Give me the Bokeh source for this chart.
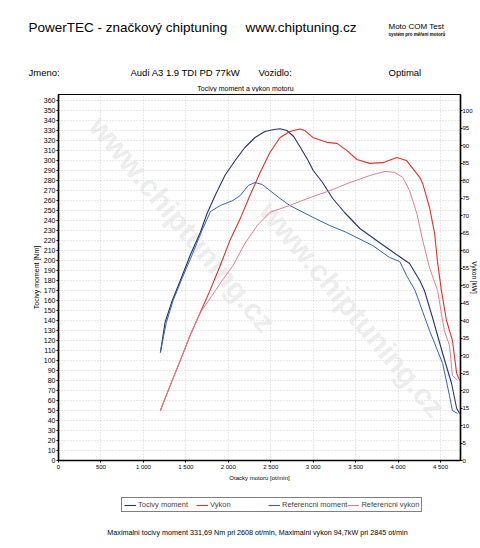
from bokeh.plotting import figure
from bokeh.models import (Range1d, LinearAxis, FixedTicker, Label, Legend, LegendItem)
from bokeh.layouts import column
from bokeh.embed import file_html
from bokeh.resources import INLINE
import math

# ---- data ----
rpm_moment = [1200, 1255, 1340, 1435, 1550, 1670, 1750, 1845, 1960, 2080, 2195, 2315, 2430, 2540,
              2608, 2690, 2770, 2850, 2940, 3000, 3110, 3230, 3370, 3550, 3780, 3980, 4135, 4255,
              4310, 4405, 4525, 4630, 4690, 4725]
nm_moment = [108, 138, 160, 180, 205, 228, 247, 265, 285, 300, 313, 323, 329, 331,
             331.7, 330, 324, 313, 300, 290, 278, 262, 248, 232, 218, 206, 197, 180,
             170, 143, 107, 77, 52, 47]

rpm_power = [1200, 1315, 1435, 1550, 1670, 1785, 1905, 2020, 2140, 2255, 2375, 2490, 2610, 2725,
             2845, 2900, 2995, 3160, 3280, 3395, 3515, 3665, 3820, 3985, 4100, 4255, 4290, 4370,
             4430, 4465, 4510, 4570, 4640, 4690, 4725]
kw_power = [14.3, 21.4, 28.6, 35.7, 42.3, 48.6, 55.7, 62.9, 69.1, 75.7, 82.3, 88.0, 92.3, 94.0,
            94.7, 94.3, 92.3, 90.9, 90.6, 88.6, 86.0, 84.9, 85.1, 86.6, 85.7, 80.9, 79.1, 72.3,
            64.9, 56.6, 48.6, 40.0, 34.3, 24.9, 22.9]

rpm_ref_moment = [1200, 1270, 1350, 1455, 1575, 1690, 1790, 1905, 2055, 2140, 2235, 2315, 2400,
                  2490, 2610, 2725, 3000, 3195, 3395, 3700, 3900, 4020, 4100, 4200, 4370, 4525,
                  4605, 4640, 4700]
nm_ref_moment = [108, 138, 160, 182, 206, 230, 249, 255, 260, 265, 275, 278, 276,
                 270, 262, 255, 243, 235, 228, 215, 203, 199, 185, 170, 130, 97,
                 65, 50, 47]

rpm_ref_power = [1200, 1315, 1435, 1550, 1670, 1785, 1905, 2055, 2195, 2340, 2490, 2725, 2960,
                 3195, 3430, 3665, 3845, 3960, 4055, 4135, 4220, 4290, 4370, 4465, 4545, 4605,
                 4640, 4700]
kw_ref_power = [14.3, 21.4, 28.6, 35.7, 42.3, 46.3, 50.6, 55.7, 62.0, 67.1, 70.9, 72.9, 75.1,
                77.1, 79.4, 81.4, 82.6, 82.3, 80.9, 77.1, 70.6, 62.9, 55.1, 48.6, 37.1, 32.9,
                24.3, 22.9]

x_ticks = [0, 500, 1000, 1500, 2000, 2500, 3000, 3500, 4000, 4500]
x_tick_labels = ["0", "500", "1 000", "1 500", "2 000", "2 500", "3 000", "3 500", "4 000", "4 500"]
y_ticks = list(range(0, 361, 10))
y2_ticks = list(range(0, 101, 5))

series_names = ["Tocivy moment", "Vykon", "Referencni moment", "Referencni vykon"]
series_colors = ["#25336f", "#e0302a", "#3563b0", "#e07f93"]
footer_text = "Maximalni tocivy moment 331,69 Nm pri 2608 ot/min,  Maximalni vykon 94,7kW pri 2845 ot/min"

FONT = "Liberation Sans"

HEAD_H = 92
PLOT_H = 392
FOOT_H = 548 - HEAD_H - PLOT_H


def text_fig(h, y0):
    f = figure(width=480, height=h, output_backend="svg", toolbar_location=None,
               x_range=Range1d(0, 480), y_range=Range1d(y0 + h, y0),
               x_axis_location=None, y_axis_location=None,
               min_border_left=0, min_border_right=0, min_border_top=0, min_border_bottom=0,
               frame_align=False,
               background_fill_color="white", border_fill_color="white")
    f.xgrid.visible = False
    f.ygrid.visible = False
    f.outline_line_color = None
    return f


def lab(fig, text, X, Y, size, align="left", style="normal"):
    fig.add_layout(Label(x=X, y=Y, text=text, text_font=FONT, text_font_size=size,
                         text_font_style=style, text_align=align, text_baseline="middle",
                         text_color="black"))


# ---------------- header ----------------
head = text_fig(HEAD_H, 0)
lab(head, "PowerTEC - značkový chiptuning", 28, 27, "13.5px")
lab(head, "www.chiptuning.cz", 245, 27, "13.5px")
lab(head, "Moto COM Test", 388, 26, "8px")
lab(head, "systém pro měření motorů", 388, 33.5, "4.5px", style="bold")
lab(head, "Jmeno:", 28, 72, "9.5px")
lab(head, "Audi A3 1.9 TDI PD 77kW", 130, 72, "9.5px")
lab(head, "Vozidlo:", 258, 72, "9.5px")
lab(head, "Optimal", 388, 72, "9.5px")
lab(head, "Tocivy moment a vykon motoru", 245, 87.5, "7px", align="center")

# ---------------- chart ----------------
p = figure(width=480, height=PLOT_H, output_backend="svg", toolbar_location=None,
           x_range=Range1d(0, 4735), y_range=Range1d(0, 366),
           min_border_left=58, min_border_right=19, min_border_top=2,
           min_border_bottom=PLOT_H - 2 - 366, frame_align=False,
           background_fill_color="white", border_fill_color="white")
p.outline_line_color = "black"
p.outline_line_width = 1.2
p.extra_y_ranges = {"kw": Range1d(0, 366 / 3.5)}

for g in (p.xgrid, p.ygrid):
    g.grid_line_color = "#c8c8c8"
    g.grid_line_dash = "1 2"
    g.grid_line_width = 0.8
p.xgrid.ticker = FixedTicker(ticks=x_ticks)
p.ygrid.ticker = FixedTicker(ticks=y_ticks)

p.xaxis.ticker = FixedTicker(ticks=x_ticks)
p.xaxis.major_label_overrides = {t: l for t, l in zip(x_ticks, x_tick_labels)}
p.xaxis.axis_label = "Otacky motoru [ot/min]"
p.yaxis.ticker = FixedTicker(ticks=y_ticks)
p.yaxis.axis_label = "Tocivy moment [Nm]"

right = LinearAxis(y_range_name="kw", ticker=FixedTicker(ticks=y2_ticks),
                   axis_label="Vykon [kW]")
p.add_layout(right, "right")

for ax in p.axis:
    ax.axis_line_color = "black"
    ax.axis_line_width = 1.5
    ax.major_tick_line_color = "black"
    ax.major_tick_in = 0
    ax.major_tick_out = 2
    ax.minor_tick_line_color = None
    ax.major_label_text_font = FONT
    ax.major_label_text_color = "black"
    ax.major_label_standoff = 1
    ax.axis_label_text_font = FONT
    ax.axis_label_text_font_style = "normal"
    ax.axis_label_text_color = "black"
    ax.axis_label_standoff = 1

p.yaxis[0].major_label_text_font_size = "7px"
p.yaxis[0].axis_label_text_font_size = "7px"
right.major_label_text_font_size = "6px"
right.major_label_standoff = 0
right.axis_label_text_font_size = "6.5px"
right.axis_label_standoff = -5
p.xaxis.major_label_text_font_size = "6px"
p.xaxis.axis_label_text_font_size = "6px"
p.xaxis.axis_label_standoff = 2

# faint watermark inside the plot area
for (X, Y) in [(95, 120), (265, 205)]:
    p.add_layout(Label(x=X - 58, y=460 - Y, x_units="screen", y_units="screen",
                       text="www.chiptuning.cz", angle=-50 * math.pi / 180,
                       text_font=FONT, text_font_style="bold", text_font_size="30px",
                       text_baseline="middle", text_color="#e2e2e2", text_alpha=0.6,
                       level="underlay"))

p.line(rpm_moment, nm_moment, line_color=series_colors[0], line_width=1.1)
p.line(rpm_power, kw_power, y_range_name="kw", line_color=series_colors[1], line_width=1.1)
p.line(rpm_ref_moment, nm_ref_moment, line_color=series_colors[2], line_width=1.0)
p.line(rpm_ref_power, kw_ref_power, y_range_name="kw", line_color=series_colors[3], line_width=1.0)

# ---------------- footer with legend ----------------
y_top = HEAD_H + PLOT_H
foot = text_fig(FOOT_H, y_top)
nan = float("nan")
proxies = [foot.line(x=[nan], y=[nan], line_color=c, line_width=1.1) for c in series_colors]
legend = Legend(items=[LegendItem(label=n, renderers=[r]) for n, r in zip(series_names, proxies)],
                orientation="horizontal", location=(121, 548 - 512))
legend.label_text_font = FONT
legend.label_text_font_size = "7.5px"
legend.label_height = 8
legend.label_width = 58
legend.glyph_height = 8
legend.glyph_width = 12
legend.label_standoff = 2
legend.spacing = 0
legend.padding = 2
legend.margin = 0
legend.border_line_color = "black"
legend.border_line_width = 1
legend.background_fill_color = "white"
legend.background_fill_alpha = 1
foot.add_layout(legend)
lab(foot, footer_text, 258, 532, "7.2px", align="center")

layout = column(head, p, foot, spacing=0)

with open("out.html", "w", encoding="utf-8") as f:
    f.write(file_html(layout, INLINE))
